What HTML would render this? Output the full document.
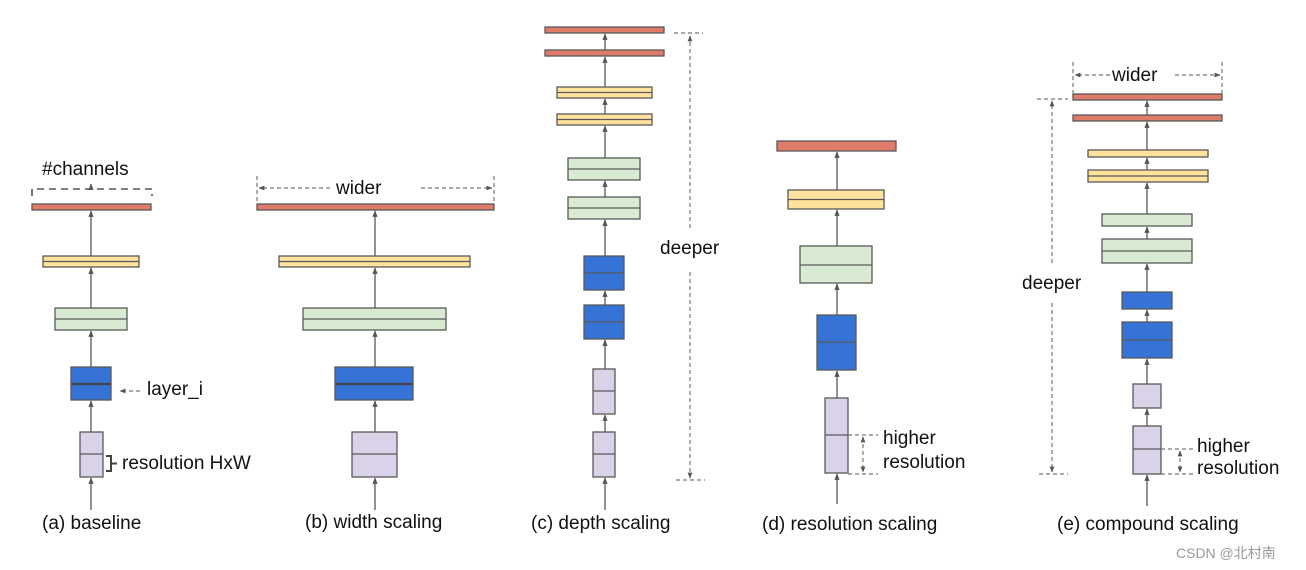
<!DOCTYPE html>
<html><head><meta charset="utf-8"><style>
html,body{margin:0;padding:0;background:#fff;width:1306px;height:570px;overflow:hidden}
svg text{font-family:"Liberation Sans",Arial,sans-serif;fill:#111}
</style></head><body>
<svg width="1306" height="570" viewBox="0 0 1306 570" xmlns="http://www.w3.org/2000/svg">
<defs>
<marker id="ah" viewBox="0 0 10 10" refX="9" refY="5" markerWidth="5" markerHeight="5" orient="auto-start-reverse"><path d="M0,1 L10,5 L0,9 z" fill="#555"/></marker>
</defs>
<g stroke="#595959" stroke-width="1.3" fill="none" marker-end="url(#ah)">
<line x1="91" y1="510" x2="91" y2="478"/><line x1="91" y1="432" x2="91" y2="401"/><line x1="91" y1="367" x2="91" y2="331"/><line x1="91" y1="308" x2="91" y2="268"/><line x1="91" y1="256" x2="91" y2="211"/>
<line x1="375" y1="510" x2="375" y2="478"/><line x1="375" y1="432" x2="375" y2="401"/><line x1="375" y1="367" x2="375" y2="331"/><line x1="375" y1="308" x2="375" y2="268"/><line x1="375" y1="256" x2="375" y2="211"/>
<line x1="605" y1="510" x2="605" y2="478"/><line x1="605" y1="432" x2="605" y2="415"/><line x1="605" y1="369" x2="605" y2="340"/><line x1="605" y1="305" x2="605" y2="291"/><line x1="605" y1="256" x2="605" y2="220"/><line x1="605" y1="197" x2="605" y2="181"/><line x1="605" y1="158" x2="605" y2="126"/><line x1="605" y1="114" x2="605" y2="99"/><line x1="605" y1="87" x2="605" y2="57"/><line x1="605" y1="50" x2="605" y2="34"/>
<line x1="837" y1="504" x2="837" y2="474"/><line x1="837" y1="398" x2="837" y2="371"/><line x1="837" y1="315" x2="837" y2="284"/><line x1="837" y1="246" x2="837" y2="210"/><line x1="837" y1="190" x2="837" y2="152"/>
<line x1="1147" y1="506" x2="1147" y2="475"/><line x1="1147" y1="426" x2="1147" y2="409"/><line x1="1147" y1="384" x2="1147" y2="359"/><line x1="1147" y1="322" x2="1147" y2="310"/><line x1="1147" y1="292" x2="1147" y2="264"/><line x1="1147" y1="239" x2="1147" y2="227"/><line x1="1147" y1="214" x2="1147" y2="183"/><line x1="1147" y1="170" x2="1147" y2="158"/><line x1="1147" y1="150" x2="1147" y2="122"/><line x1="1147" y1="115" x2="1147" y2="101"/>
</g>
<g stroke="#595959" stroke-width="1.3">
<rect x="32" y="204" width="119" height="6" fill="#e07b6a"/>
<rect x="43" y="256" width="96" height="11" fill="#ffe39c"/><line x1="43" y1="261.5" x2="139" y2="261.5"/>
<rect x="55" y="308" width="72" height="22" fill="#d9ead3"/><line x1="55" y1="319" x2="127" y2="319"/>
<rect x="71" y="367" width="40" height="33" fill="#3574d6"/><line x1="71" y1="384" x2="111" y2="384" stroke-width="2.2" stroke="#444"/>
<rect x="80" y="432" width="23" height="45" fill="#d9d2e9"/><line x1="80" y1="454" x2="103" y2="454"/>
<rect x="257" y="204" width="237" height="6" fill="#e07b6a"/>
<rect x="279" y="256" width="191" height="11" fill="#ffe39c"/><line x1="279" y1="261.5" x2="470" y2="261.5"/>
<rect x="303" y="308" width="143" height="22" fill="#d9ead3"/><line x1="303" y1="319" x2="446" y2="319"/>
<rect x="335" y="367" width="78" height="33" fill="#3574d6"/><line x1="335" y1="384" x2="413" y2="384" stroke-width="2.2" stroke="#444"/>
<rect x="352" y="432" width="45" height="45" fill="#d9d2e9"/><line x1="352" y1="454" x2="397" y2="454"/>
<rect x="545" y="27" width="119" height="6" fill="#e07b6a"/>
<rect x="545" y="50" width="119" height="6" fill="#e07b6a"/>
<rect x="557" y="87" width="95" height="11" fill="#ffe39c"/><line x1="557" y1="92.5" x2="652" y2="92.5"/>
<rect x="557" y="114" width="95" height="11" fill="#ffe39c"/><line x1="557" y1="119.5" x2="652" y2="119.5"/>
<rect x="568" y="158" width="72" height="22" fill="#d9ead3"/><line x1="568" y1="169" x2="640" y2="169"/>
<rect x="568" y="197" width="72" height="22" fill="#d9ead3"/><line x1="568" y1="208" x2="640" y2="208"/>
<rect x="584" y="256" width="40" height="34" fill="#3574d6"/><line x1="584" y1="273" x2="624" y2="273"/>
<rect x="584" y="305" width="40" height="34" fill="#3574d6"/><line x1="584" y1="322" x2="624" y2="322"/>
<rect x="593" y="369" width="22" height="45" fill="#d9d2e9"/><line x1="593" y1="391" x2="615" y2="391"/>
<rect x="593" y="432" width="22" height="45" fill="#d9d2e9"/><line x1="593" y1="454" x2="615" y2="454"/>
<rect x="777" y="141" width="119" height="10" fill="#e07b6a"/>
<rect x="788" y="190" width="96" height="19" fill="#ffe39c"/><line x1="788" y1="199.5" x2="884" y2="199.5"/>
<rect x="800" y="246" width="72" height="37" fill="#d9ead3"/><line x1="800" y1="265" x2="872" y2="265"/>
<rect x="817" y="315" width="39" height="55" fill="#3574d6"/><line x1="817" y1="342" x2="856" y2="342"/>
<rect x="825" y="398" width="23" height="75" fill="#d9d2e9"/><line x1="825" y1="435" x2="848" y2="435"/>
<rect x="1073" y="94" width="149" height="6" fill="#e07b6a"/>
<rect x="1073" y="115" width="149" height="6" fill="#e07b6a"/>
<rect x="1088" y="150" width="120" height="7" fill="#ffe39c"/>
<rect x="1088" y="170" width="120" height="12" fill="#ffe39c"/><line x1="1088" y1="176" x2="1208" y2="176"/>
<rect x="1102" y="214" width="90" height="12" fill="#d9ead3"/>
<rect x="1102" y="239" width="90" height="24" fill="#d9ead3"/><line x1="1102" y1="251" x2="1192" y2="251"/>
<rect x="1122" y="292" width="50" height="17" fill="#3574d6"/>
<rect x="1122" y="322" width="50" height="36" fill="#3574d6"/><line x1="1122" y1="340" x2="1172" y2="340"/>
<rect x="1133" y="384" width="28" height="24" fill="#d9d2e9"/>
<rect x="1133" y="426" width="28" height="48" fill="#d9d2e9"/><line x1="1133" y1="449" x2="1161" y2="449"/>
</g>
<g stroke="#777" stroke-width="1.2" fill="none" stroke-dasharray="4,3">
<path d="M32,196 V189 H152 V196" stroke-dasharray="7,5" stroke="#555" stroke-width="1.6"/>
<line x1="140" y1="391" x2="120" y2="391" marker-end="url(#ah)"/>
<line x1="257" y1="176" x2="257" y2="204"/><line x1="494" y1="176" x2="494" y2="204"/>
<line x1="330" y1="188" x2="259" y2="188" marker-end="url(#ah)"/><line x1="421" y1="188" x2="492" y2="188" marker-end="url(#ah)"/>
<line x1="674" y1="33" x2="703" y2="33"/><line x1="676" y1="480" x2="705" y2="480"/>
<line x1="690" y1="228" x2="690" y2="36" marker-end="url(#ah)"/><line x1="690" y1="272" x2="690" y2="478" marker-end="url(#ah)"/>
<line x1="848" y1="435" x2="878" y2="435"/><line x1="848" y1="474" x2="878" y2="474"/>
<line x1="863" y1="437" x2="863" y2="472" marker-start="url(#ah)" marker-end="url(#ah)"/>
<line x1="1073" y1="62" x2="1073" y2="94"/><line x1="1222" y1="62" x2="1222" y2="94"/>
<line x1="1110" y1="75" x2="1075" y2="75" marker-end="url(#ah)"/><line x1="1175" y1="75" x2="1220" y2="75" marker-end="url(#ah)"/>
<line x1="1037" y1="99" x2="1068" y2="99"/><line x1="1039" y1="474" x2="1068" y2="474"/>
<line x1="1052" y1="263" x2="1052" y2="101" marker-end="url(#ah)"/><line x1="1052" y1="303" x2="1052" y2="472" marker-end="url(#ah)"/>
<line x1="1161" y1="449" x2="1195" y2="449"/><line x1="1161" y1="474" x2="1195" y2="474"/>
<line x1="1180" y1="451" x2="1180" y2="472" marker-start="url(#ah)" marker-end="url(#ah)"/>
</g>
<line x1="91" y1="189" x2="91" y2="184" stroke="#555" stroke-width="1.3" marker-end="url(#ah)"/>
<path d="M106,456 h5 v15 h-5 M111,463.5 h6" stroke="#444" stroke-width="2" fill="none"/>
<g font-size="19">
<text x="42" y="175">#channels</text>
<text x="147" y="395">layer_i</text>
<text x="122" y="469">resolution HxW</text>
<text x="42" y="529">(a) baseline</text>
<text x="336" y="194">wider</text>
<text x="305" y="528">(b) width scaling</text>
<text x="660" y="254">deeper</text>
<text x="531" y="529">(c) depth scaling</text>
<text x="883" y="444">higher</text>
<text x="883" y="468">resolution</text>
<text x="762" y="530">(d) resolution scaling</text>
<text x="1112" y="81">wider</text>
<text x="1022" y="289">deeper</text>
<text x="1197" y="452">higher</text>
<text x="1197" y="474">resolution</text>
<text x="1057" y="530">(e) compound scaling</text>
</g>
<text x="1176" y="558" font-size="14" style="fill:#999;font-family:'Liberation Sans','Noto Sans CJK SC',sans-serif">CSDN @北村南</text>
</svg>
</body></html>
